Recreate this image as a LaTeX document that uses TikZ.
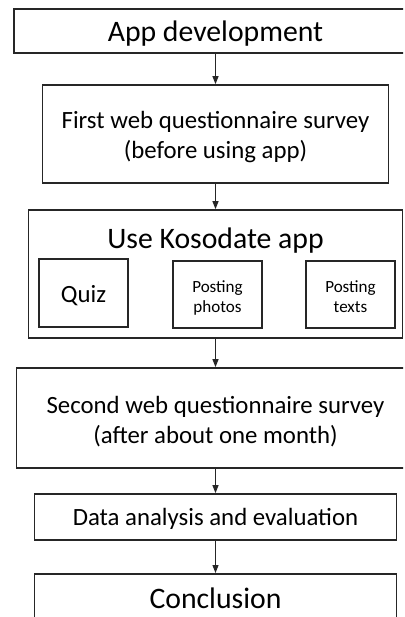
\documentclass[tikz,border=0pt]{standalone}
\usepackage{fontspec}
\setmainfont{Carlito}
\usetikzlibrary{arrows.meta}

\begin{document}
\begin{tikzpicture}[x=0.75pt,y=-0.75pt]
        \tikzset{stage/.style = {draw=black!85,line width=1.3pt,align=center,inner sep=0pt}}
        \tikzset{bigtext/.style = {font=\fontsize{22.3}{28}\selectfont}}
        \tikzset{midtext/.style = {font=\fontsize{18.6}{22.5}\selectfont}}
        \tikzset{smalltext/.style = {font=\fontsize{12.8}{15}\selectfont}}
        \tikzset{edge/.style = {-{Triangle[length=6pt,width=4.5pt]},line width=0.8pt,draw=black!85}}
        \useasboundingbox (0,0) rectangle (404,617);
        \clip (0,0) rectangle (403,617);
        % stages
        \node[stage,bigtext,minimum width=302.25pt,minimum height=33pt,text height=18pt,text depth=1.5pt] (dev) at (215.5,31) {App development};
        \node[stage,midtext,minimum width=259.5pt,minimum height=73.5pt,text height=38pt,text depth=2pt] (survey1) at (215.5,134) {First web questionnaire survey\\(before using app)};
        \node[stage,minimum width=280.5pt,minimum height=96pt] (app) at (215.5,274) {};
        \node[bigtext,inner sep=0pt,anchor=base] (apptitle) at (215.5,248) {Use Kosodate app};
        \node[stage,midtext,minimum width=66.75pt,minimum height=51pt,text height=14pt,text depth=0.5pt] (quiz) at (83.5,293) {Quiz};
        \node[stage,smalltext,minimum width=66.75pt,minimum height=50.25pt,text height=27pt,text depth=0.75pt] (photos) at (217.5,294.5) {Posting\\photos};
        \node[stage,smalltext,minimum width=66.75pt,minimum height=50.25pt,text height=27pt,text depth=0.75pt] (texts) at (350.5,294.5) {Posting\\texts};
        \node[stage,midtext,minimum width=298.5pt,minimum height=75pt,text height=39.5pt,text depth=2pt] (survey2) at (215.5,418) {Second web questionnaire survey\\(after about one month)};
        \node[stage,midtext,minimum width=271.5pt,minimum height=34.5pt,text height=14pt,text depth=2pt] (analysis) at (215.5,517) {Data analysis and evaluation};
        \node[stage,bigtext,minimum width=271.5pt,text height=26.25pt,text depth=20pt,anchor=north] (concl) at (215.5,573) {Conclusion};
        %edges
        \draw[edge] (dev) -- (survey1);
        \draw[edge] (survey1) -- (app);
        \draw[edge] (app) -- (survey2);
        \draw[edge] (survey2) -- (analysis);
        \draw[edge] (analysis) -- (concl);
\end{tikzpicture}
\end{document}
